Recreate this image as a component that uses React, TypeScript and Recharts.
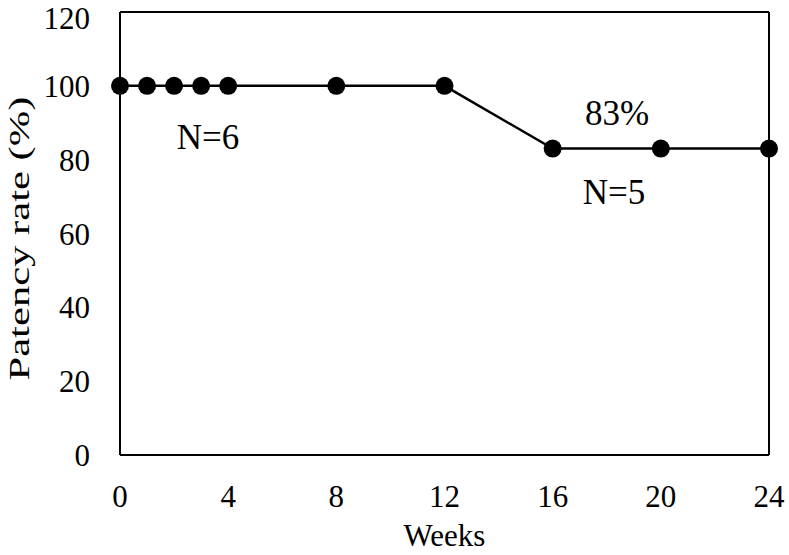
import React from 'react';
import {
  LineChart,
  Line,
  XAxis,
  YAxis,
  ReferenceDot,
  ReferenceLine,
} from 'recharts';

const weeks = [0, 1, 2, 3, 4, 8, 12, 16, 20, 24];
const patency = [100, 100, 100, 100, 100, 100, 100, 83, 83, 83];
const xTicks = [0, 4, 8, 12, 16, 20, 24];
const yTicks = [0, 20, 40, 60, 80, 100, 120];
const xMax = 24;
const yMax = 120;
const annotationText = ['N=6', '83%', 'N=5'];
const annotationX = [3.25, 18.38, 18.27];
const annotationY = [86.3, 92.8, 71.4];

const data = weeks.map((w, i) => ({ week: w, rate: patency[i] }));
const annotations = annotationText.map((t, i) => ({ text: t, x: annotationX[i], y: annotationY[i] }));

const FONT = 'Liberation Serif';
const tickStyle = { fontFamily: FONT, fontSize: 31, fill: '#000' };
const textStyle = { fontFamily: FONT, fontSize: 31, fill: '#000' };
const noteStyle = { fontFamily: FONT, fontSize: 35, fill: '#000' };

const YLabel = (props: any) => {
  const vb = props.viewBox || { x: 0, y: 0, width: 0, height: 0 };
  const cx = vb.x + 18;
  const cy = vb.y + vb.height / 2 + 5;
  return (
    <text
      x={cx}
      y={cy}
      transform={`rotate(-90, ${cx}, ${cy})`}
      textAnchor="middle"
      dominantBaseline="central"
      textLength={284}
      lengthAdjust="spacingAndGlyphs"
      fontFamily={FONT}
      fontSize={30}
      fill="#000"
    >
      Patency rate (%)
    </text>
  );
};

export default function App() {
  return (
    <div style={{ position: 'absolute', left: 0, top: 0, background: '#fff', fontFamily: FONT }}>
      <LineChart
        width={789}
        height={555}
        data={data}
        margin={{ top: 12, right: 20, bottom: 0, left: 0 }}
        style={{ fontFamily: FONT }}
      >
        <XAxis
          dataKey="week"
          type="number"
          domain={[0, xMax]}
          ticks={xTicks}
          tickLine={false}
          tickSize={0}
          tickMargin={30}
          tick={tickStyle}
          axisLine={{ stroke: '#000', strokeWidth: 2 }}
          height={100}
          label={{ value: 'Weeks', position: 'insideBottom', offset: 9, style: textStyle }}
        />
        <YAxis
          type="number"
          domain={[0, yMax]}
          ticks={yTicks}
          tickLine={false}
          tickSize={0}
          tickMargin={30}
          tick={tickStyle}
          axisLine={{ stroke: '#000', strokeWidth: 2 }}
          width={120}
          label={<YLabel />}
        />
        <ReferenceLine y={yMax} stroke="#000" strokeWidth={2} />
        <ReferenceLine x={xMax} stroke="#000" strokeWidth={2} />
        <Line
          dataKey="rate"
          stroke="#000"
          strokeWidth={2.5}
          dot={{ r: 9, fill: '#000', stroke: '#000', strokeWidth: 0 }}
          isAnimationActive={false}
        />
        {annotations.map((a) => (
          <ReferenceDot
            key={a.text}
            x={a.x}
            y={a.y}
            r={0}
            fill="none"
            stroke="none"
            label={{ value: a.text, position: 'center', style: noteStyle }}
          />
        ))}
      </LineChart>
    </div>
  );
}
